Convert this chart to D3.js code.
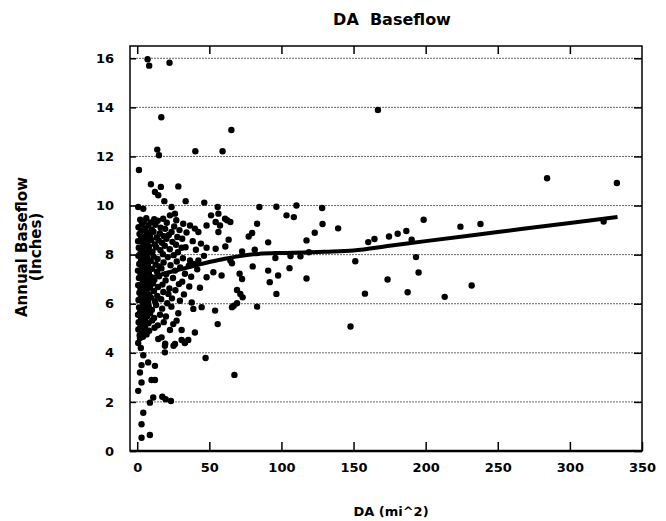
<!DOCTYPE html>
<html>
<head>
<meta charset="utf-8">
<script src="https://cdn.jsdelivr.net/npm/d3@7"></script>
<style>
  html, body { margin: 0; padding: 0; background: #fff; }
  svg { display: block; }
  text { font-family: "DejaVu Sans", "Liberation Sans", Arial, sans-serif; font-weight: bold; fill: #000; }
</style>
</head>
<body>
<svg id="chart" width="666" height="521"></svg>
<script>
// ---------- data ----------
const chartTitle = "DA  Baseflow";
const xTitle = "DA (mi^2)";
const yTitleLines = ["Annual Baseflow", "(Inches)"];
const xTicks = [0, 50, 100, 150, 200, 250, 300, 350];
const yTicks = [0, 2, 4, 6, 8, 10, 12, 14, 16];

// observed points: [drainage area (mi^2), annual baseflow (inches)]
const sparsePoints = [
  [7.2,15.96],[8.3,15.7],[22.4,15.82],[16.7,13.6],[65.3,13.08],[13.9,12.28],[15.1,12.05],[40.3,12.21],[59.2,12.21],[1.2,11.45],
  [166.9,13.89],[284.2,11.11],[332.6,10.92],
  [128.2,9.9],[128.5,9.25],[123.1,8.89],[139.3,9.07],[198.6,9.42],[224.1,9.14],[238,9.25],[323.4,9.35],[117.4,8.58],
  [160.2,8.51],[164.5,8.64],[174.6,8.74],[180.6,8.85],[186.6,8.96],[190.3,8.61],[193.3,7.9],[195.1,7.27],[151.2,7.73],
  [117.4,7.03],[157.9,6.41],[173.6,6.99],[187.5,6.47],[213.2,6.28],[231.9,6.74],[147.9,5.07],[113.2,7.93],
  [84.7,9.94],[96.5,9.95],[110.4,10.0],[103.5,9.6],[108.6,9.53],[83.1,9.26],[64.6,9.33],[62.3,9.4],[79.7,8.88],[77.3,8.74],
  [63.4,8.61],[90.8,8.5],[61.1,8.33],[72.7,8.13],[81.5,8.2],[95.8,7.86],[106.3,7.94],[119,8.1],[64.6,7.76],[65.7,7.65],
  [80.1,7.52],[90.8,7.35],[105.6,7.45],[97.7,7.15],[91.9,6.88],[71,7.22],[72.7,7.01],[69.2,6.56],[71.5,6.4],[73.1,6.26],
  [96.5,6.4],[66.9,5.92],[69.2,6.02],[65.7,5.86],[83.1,5.88],
  [9.5,10.87],[12.3,10.55],[16.4,10.76],[14.6,10.42],[28.5,10.78],[18.8,10.18],[33.6,10.18],[46.5,10.12],[55.8,9.94],
  [0.7,9.94],[4.2,9.87],[23.8,9.94],[51.2,9.6],[56.3,9.67],[60.9,9.46],[54.4,9.33],[57.4,9.19],[31.9,9.26],[36.6,9.19],
  [40,9.06],[42.4,8.92],[48.1,9.19],[56.3,8.92],[23.8,8.92],[31.2,8.65],[48.1,8.28],[54.4,8.24],[30.8,8.28],[22.7,9.6],
  [26.2,9.67],[18,9.46],[36.6,7.76],[42.4,7.76],[52.8,7.28],[58.5,7.15],[48.1,7.08],
  [28.5,5.61],[54,5.72],[55.8,5.17],[44.7,5.86],[38.9,5.79],[40,4.83],[30.8,4.93],[25,5.17],[22.7,4.93],[27.3,5.31],
  [16.9,4.63],[14.6,4.56],[30.8,4.52],[33.1,4.42],[35.4,4.52],[19.2,4.29],[19.2,4.02],[26.2,4.36],[47.4,3.79],[67.4,3.1],
  [7.6,3.61],[12.3,3.47],[12.3,2.89],[9.9,2.89],[11.1,2.18],[8.8,1.97],[17.4,2.21],[19.7,2.11],[23.4,2.04],[4.2,1.56],
  [3,1.09],[3,0.54],[8.8,0.65],[1.9,3.2],[3,2.79],[0.7,2.45],[3,3.5],[4.2,3.9],[2.5,4.2],[1.9,4.6],[0.7,4.4],
  [19.4,4.37],[25.2,4.29],[33,4.4]
];
const clusterPoints = [
  [2.1,9.42],[4.6,9.35],[6.3,9.48],[9.2,9.31],[11.8,9.44],[14.2,9.38],[20.5,9.3],[27.1,9.4],
  [0.9,9.12],[3.3,9.25],[5.4,9.05],[7.7,9.18],[10.1,9.02],[12.6,9.22],[16.3,9.1],[19.4,9.05],[25.6,9.15],[29.3,9.0],
  [1.6,8.84],[2.8,8.95],[4.9,8.72],[6.8,8.9],[8.9,8.78],[11.3,8.93],[13.5,8.7],[15.7,8.86],[18.6,8.75],[21.9,8.8],[27.8,8.72],[34.2,8.9],
  [0.6,8.55],[2.4,8.62],[3.9,8.45],[5.8,8.66],[7.2,8.5],[9.7,8.6],[12.1,8.42],[14.9,8.58],[17.2,8.48],[20.3,8.65],[24.4,8.52],[26.9,8.4],[38.5,8.55],[44.2,8.45],
  [1.1,8.28],[2.9,8.15],[4.4,8.35],[6.1,8.2],[8.2,8.32],[10.6,8.12],[13.2,8.3],[16.1,8.18],[19.1,8.36],[22.6,8.22],[28.2,8.1],[33.5,8.3],[40.7,8.2],
  [0.8,7.95],[2.2,8.05],[3.6,7.85],[5.1,8.0],[6.9,7.88],[8.6,8.08],[11.4,7.92],[14.1,7.82],[17.8,8.02],[21.2,7.9],[25.3,7.98],[31.7,7.85],[46.3,7.95],
  [1.4,7.62],[2.6,7.75],[4.1,7.55],[5.9,7.7],[7.4,7.58],[9.4,7.74],[12.8,7.6],[15.4,7.52],[18.3,7.68],[23.1,7.57],[27.4,7.72],[35.8,7.55],[39.2,7.62],
  [0.5,7.35],[1.9,7.28],[3.2,7.45],[4.8,7.22],[6.6,7.38],[8.1,7.25],[10.3,7.42],[13.7,7.3],[16.8,7.44],[20.1,7.2],[26.2,7.35],[29.8,7.48],[33.1,7.22],[41.6,7.4],
  [1.2,7.05],[2.7,7.15],[4.3,6.95],[5.6,7.1],[7.9,6.92],[9.8,7.08],[11.9,6.98],[15.2,7.12],[19.7,6.95],[24.8,7.05],[31.2,6.9],[37.4,7.1],
  [0.7,6.75],[2.3,6.62],[3.8,6.85],[5.3,6.7],[7.1,6.8],[8.8,6.65],[10.9,6.82],[14.4,6.68],[17.5,6.78],[22.3,6.62],[28.9,6.8],[36.1,6.7],[43.5,6.65],
  [1.5,6.45],[3.1,6.55],[4.7,6.35],[6.4,6.5],[8.4,6.38],[11.6,6.52],[13.9,6.32],[18.1,6.48],[21.6,6.4],[26.5,6.55],[32.4,6.38],
  [0.9,6.15],[2.5,6.25],[4.0,6.05],[5.7,6.2],[7.6,6.08],[9.5,6.25],[12.4,6.1],[16.6,6.18],[20.8,6.02],[24.1,6.22],[29.6,6.12],[37.8,6.05],
  [1.3,5.85],[2.8,5.72],[4.5,5.92],[6.2,5.78],[8.0,5.9],[10.2,5.75],[13.1,5.95],[17.3,5.8],[23.7,5.88],
  [0.6,5.55],[2.0,5.65],[3.5,5.45],[5.0,5.6],[7.0,5.5],[9.0,5.62],[11.7,5.42],[15.8,5.55],[19.9,5.48],
  [1.0,5.25],[2.6,5.35],[4.2,5.15],[5.8,5.3],[7.8,5.2],[10.4,5.32],[14.3,5.12],[18.4,5.25],
  [0.8,4.95],[2.1,5.05],[3.7,4.85],[5.5,5.0],[8.3,4.9],[12.0,5.02],
  [1.7,4.72],[4.0,4.65],[6.5,4.75]
];
// smoothed trend line
const trendDA = [2, 6, 12, 20, 30, 40, 50, 60, 70, 84, 100, 115, 130, 150, 175, 200, 250, 300, 333];
const trendBaseflow = [6.8, 6.95, 7.1, 7.25, 7.4, 7.55, 7.7, 7.82, 7.93, 8.03, 8.07, 8.09, 8.12, 8.17, 8.36, 8.55, 8.92, 9.29, 9.53];

// ---------- chart ----------
const svg = d3.select("#chart");
const pL = 130, pR = 642, pT = 46, pB = 451;
const x = d3.scaleLinear().domain([-5, 350]).range([pL, pR]);
const y = d3.scaleLinear().domain([0, 16.5]).range([pB, pT]);

// gridlines
svg.append("g").selectAll("line").data(yTicks.filter(d => d > 0)).join("line")
  .attr("x1", pL).attr("x2", pR)
  .attr("y1", d => y(d)).attr("y2", d => y(d))
  .attr("stroke", "#666").attr("stroke-width", 1).attr("stroke-dasharray", "2,1");

// axes
const axisStyle = g => {
  g.select(".domain").remove();
  g.selectAll(".tick line").attr("stroke", "#000").attr("stroke-width", 1.5);
  g.selectAll(".tick text").attr("font-size", 13).attr("font-weight", "bold")
    .attr("font-family", "DejaVu Sans, Liberation Sans, Arial, sans-serif");
};
svg.append("g").attr("transform", `translate(0,${pB})`)
  .call(d3.axisBottom(x).tickValues(xTicks).tickSizeInner(-9).tickSizeOuter(0).tickPadding(12).tickFormat(d3.format("d")))
  .call(axisStyle);
svg.append("g").attr("transform", `translate(0,${pT})`)
  .call(d3.axisTop(x).tickValues(xTicks.filter(d => d < 350)).tickSizeInner(-8).tickSizeOuter(0).tickFormat(""))
  .call(axisStyle);
svg.append("g").attr("transform", `translate(${pL},0)`)
  .call(d3.axisLeft(y).tickValues(yTicks).tickSizeInner(-6).tickSizeOuter(0).tickPadding(16).tickFormat(d3.format("d")))
  .call(axisStyle);
svg.append("g").attr("transform", `translate(${pR},0)`)
  .call(d3.axisRight(y).tickValues(yTicks).tickSizeInner(-8).tickSizeOuter(0).tickFormat(""))
  .call(axisStyle);

// frame
svg.append("rect").attr("x", pL).attr("y", pT).attr("width", pR - pL).attr("height", pB - pT)
  .attr("fill", "none").attr("stroke", "#000").attr("stroke-width", 1.5);
svg.append("line").attr("x1", pL).attr("x2", pR).attr("y1", pB).attr("y2", pB)
  .attr("stroke", "#000").attr("stroke-width", 2.5);

// points
const allPoints = sparsePoints.concat(clusterPoints);
svg.append("g").selectAll("circle").data(allPoints).join("circle")
  .attr("cx", d => x(d[0])).attr("cy", d => y(d[1])).attr("r", 3.2).attr("fill", "#000");

// trend line
const trend = trendDA.map((d, i) => [d, trendBaseflow[i]]);
svg.append("path").datum(trend)
  .attr("d", d3.line().x(d => x(d[0])).y(d => y(d[1])).curve(d3.curveMonotoneX))
  .attr("fill", "none").attr("stroke", "#000").attr("stroke-width", 4).attr("stroke-linecap", "butt");

// titles
svg.append("text").attr("x", 392).attr("y", 25).attr("text-anchor", "middle")
  .attr("font-size", 16).style("white-space", "pre").text(chartTitle);
svg.append("text").attr("x", 391).attr("y", 516).attr("text-anchor", "middle")
  .attr("font-size", 13).text(xTitle);
const yt = svg.append("text").attr("transform", "translate(27,247) rotate(-90)").attr("text-anchor", "middle").attr("font-size", 15);
yt.append("tspan").attr("x", 0).attr("dy", 0).text(yTitleLines[0]);
yt.append("tspan").attr("x", 0).attr("dy", 14).text(yTitleLines[1]);
</script>
</body>
</html>
